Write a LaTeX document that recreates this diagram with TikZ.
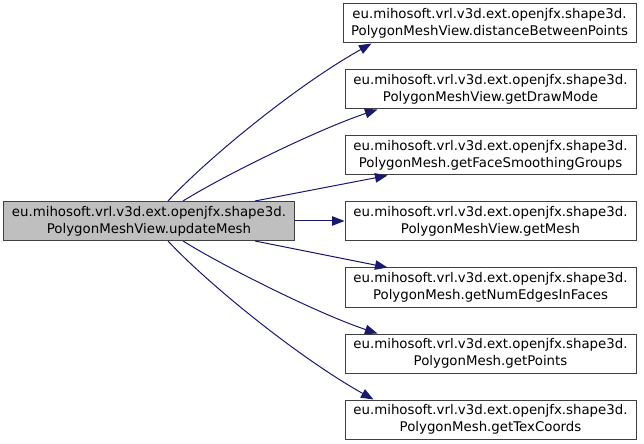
\documentclass[tikz,border=0pt]{standalone}
\usepackage{fontspec}
\setmainfont{DejaVu Sans}
\usetikzlibrary{arrows.meta}
\definecolor{edgeblue}{HTML}{191970}
\definecolor{boxgray}{HTML}{BFBFBF}
\definecolor{boxline}{HTML}{404040}

\begin{document}
\begin{tikzpicture}[x=1bp,y=-1bp,
    fn/.style={draw=boxline, line width=1bp, fill=white, align=center, inner sep=0pt,
      minimum width=291bp, minimum height=39bp,
      font=\fontsize{13.33bp}{17bp}\selectfont},
    call/.style={edgeblue, line width=1bp, -{Triangle[length=12.5bp,width=9.5bp]}}]
  \useasboundingbox (0,0) rectangle (644,444);

  % Caller
  \node[fn, fill=boxgray, minimum width=290bp] (main) at (149,221)
    {eu.mihosoft.vrl.v3d.ext.openjfx.shape3d.\\PolygonMeshView.updateMesh};

  % Callees
  \node[fn, minimum width=293bp] (dist) at (489.5,23.5)
    {eu.mihosoft.vrl.v3d.ext.openjfx.shape3d.\\PolygonMeshView.distanceBetweenPoints};
  \node[fn] (draw) at (490.5,89.5)
    {eu.mihosoft.vrl.v3d.ext.openjfx.shape3d.\\PolygonMeshView.getDrawMode};
  \node[fn] (smooth) at (490.5,155.5)
    {eu.mihosoft.vrl.v3d.ext.openjfx.shape3d.\\PolygonMesh.getFaceSmoothingGroups};
  \node[fn] (mesh) at (490.5,221)
    {eu.mihosoft.vrl.v3d.ext.openjfx.shape3d.\\PolygonMeshView.getMesh};
  \node[fn] (edges) at (490.5,287.5)
    {eu.mihosoft.vrl.v3d.ext.openjfx.shape3d.\\PolygonMesh.getNumEdgesInFaces};
  \node[fn] (points) at (490.5,353.5)
    {eu.mihosoft.vrl.v3d.ext.openjfx.shape3d.\\PolygonMesh.getPoints};
  \node[fn] (tex) at (490.5,419.5)
    {eu.mihosoft.vrl.v3d.ext.openjfx.shape3d.\\PolygonMesh.getTexCoords};

  % Calls
  \draw[call] ([xshift=19bp]main.north) .. controls +(40,-43) and +(-75,42) .. ([xshift=29bp]dist.south west);
  \draw[call] ([xshift=34bp]main.north) .. controls +(40,-25) and +(-60,20) .. ([xshift=33bp]draw.south west);
  \draw[call] ([xshift=106bp]main.north) -- ([xshift=43bp]smooth.south west);
  \draw[call] (main.east) -- (mesh.west);
  \draw[call] ([xshift=106bp]main.south) -- ([xshift=43bp]edges.north west);
  \draw[call] ([xshift=34bp]main.south) .. controls +(40,25) and +(-60,-20) .. ([xshift=33bp]points.north west);
  \draw[call] ([xshift=19bp]main.south) .. controls +(40,43) and +(-75,-42) .. ([xshift=29bp]tex.north west);

\end{tikzpicture}
\end{document}
